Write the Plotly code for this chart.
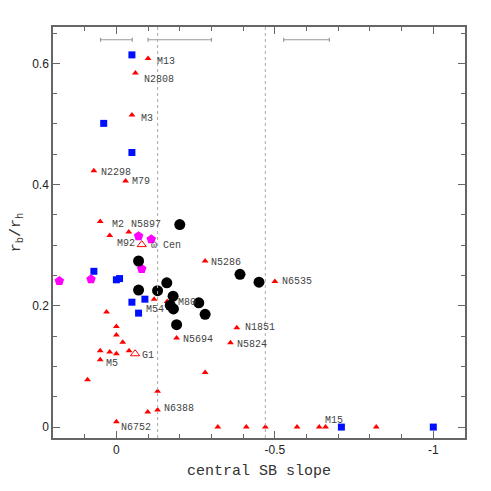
import plotly.graph_objs as go

# red filled triangles: central SB slope, r_b/r_h
tri_x = [-0.100, -0.060, -0.049, 0.071, -0.029, 0.051, -0.039, 0.021,
         -0.280, -0.500, -0.119, -0.160, 0.031, 0.0, 0.0, -0.020,
         0.051, 0.021, 0.0, -0.040, 0.051, -0.380, -0.190, -0.360,
         -0.280, 0.091, -0.130, -0.130, -0.099, 0.0,
         -0.320, -0.410, -0.470, -0.570, -0.640, -0.660, -0.820]
tri_y = [0.608, 0.584, 0.515, 0.423, 0.406, 0.339, 0.322, 0.316,
         0.274, 0.240, 0.211, 0.207, 0.190, 0.166, 0.152, 0.140,
         0.126, 0.124, 0.121, 0.126, 0.111, 0.164, 0.147, 0.139,
         0.090, 0.078, 0.059, 0.028, 0.025, 0.009,
         0.0, 0.0, 0.0, 0.0, 0.0, 0.0, 0.0]

# open triangles (omega Cen, G1)
open_x = [-0.080, -0.059]
open_y = [0.301, 0.121]

sq_x = [-0.049, 0.040, -0.049, 0.071, 0.0, -0.010, -0.049, -0.090, -0.070, -0.710, -1.000]
sq_y = [0.614, 0.501, 0.453, 0.257, 0.243, 0.245, 0.206, 0.211, 0.188, 0.0, 0.0]

pent_x = [-0.070, -0.110, -0.080, 0.180, 0.080]
pent_y = [0.315, 0.310, 0.261, 0.241, 0.244]

circ_x = [-0.200, -0.070, -0.390, -0.450, -0.159, -0.070, -0.130, -0.179,
          -0.260, -0.170, -0.180, -0.280, -0.190]
circ_y = [0.334, 0.274, 0.252, 0.239, 0.238, 0.226, 0.225, 0.216,
          0.205, 0.201, 0.195, 0.186, 0.169]

# label name -> (x, y) of the point it belongs to
label_names = ['M13', 'N2808', 'M3', 'N2298', 'M79', 'M2', 'N5897', 'M92',
               '\u03c9 Cen', 'N5286', 'N6535', 'M54', 'M80', 'N1851', 'N5694',
               'N5824', 'G1', 'M5', 'N6388', 'N6752', 'M15']
label_x = [-0.100, -0.060, -0.049, 0.071, -0.029, 0.051, -0.039, 0.021,
           -0.080, -0.280, -0.500, -0.119, -0.160, -0.380, -0.190,
           -0.360, -0.059, 0.051, -0.130, 0.0, -0.660]
label_y = [0.608, 0.584, 0.515, 0.423, 0.406, 0.339, 0.322, 0.316,
           0.301, 0.274, 0.240, 0.211, 0.207, 0.164, 0.147,
           0.139, 0.121, 0.111, 0.028, 0.009, 0.0]
# pixel offsets of each label from its point (right, down)
label_dx = [7, 7, 7, 5, 4, 10, 0, 5, 7, 4, 5, -10, 9, 6, 4, 5, 5, 4, 4, 3, -3]
label_dy = [3, 6, 4, 2, 1, 3, -7, 8, 1, 2, 0, 10, 1, 0, 2, 2, 2, 4, -2, 6, -7]

# typical error bars drawn at the top
err_x = [0.0, -0.2, -0.6]
err_y = [0.639, 0.639, 0.639]
err_w = [0.05, 0.1, 0.072]

dotted_x = [-0.13, -0.47]

label_font = dict(family='Liberation Mono', size=10, color='#444444')

fig = go.Figure()

fig.add_trace(go.Scatter(
    x=err_x, y=err_y, mode='markers',
    marker=dict(size=1, color='rgba(0,0,0,0)'),
    error_x=dict(type='data', array=err_w, color='#999999', thickness=1.2, width=2),
    hoverinfo='skip'))

fig.add_trace(go.Scatter(x=tri_x, y=tri_y, mode='markers',
                         marker=dict(symbol='triangle-up', size=6, color='red')))
fig.add_trace(go.Scatter(x=open_x, y=open_y, mode='markers',
                         marker=dict(symbol='triangle-up-open', size=8, color='red',
                                     line=dict(width=1))))
fig.add_trace(go.Scatter(x=sq_x, y=sq_y, mode='markers',
                         marker=dict(symbol='square', size=7, color='#0010ff')))
fig.add_trace(go.Scatter(x=pent_x, y=pent_y, mode='markers',
                         marker=dict(symbol='pentagon', size=10, color='#ff00ff')))
fig.add_trace(go.Scatter(x=circ_x, y=circ_y, mode='markers',
                         marker=dict(symbol='circle', size=11, color='black')))

for name, x, y, dx, dy in zip(label_names, label_x, label_y, label_dx, label_dy):
    fig.add_annotation(x=x, y=y, text=name, showarrow=False, xanchor='left',
                       yanchor='middle', xshift=dx, yshift=-dy, font=label_font)

for xv in dotted_x:
    fig.add_shape(type='line', xref='x', yref='paper', x0=xv, x1=xv, y0=0, y1=1,
                  line=dict(color='#aaaaaa', width=1, dash='dot'))

axis_common = dict(showgrid=False, zeroline=False, showline=True, linecolor='#666666',
                   linewidth=1.5, mirror='allticks', ticks='inside', ticklen=7,
                   tickcolor='#666666', automargin=False,
                   tickfont=dict(family='Liberation Sans', size=12, color='#222222'))

# page body has an 8px margin, so the figure is drawn 8px smaller
fig.update_layout(
    width=483, height=483,
    margin=dict(l=45, r=26, t=19, b=53),
    plot_bgcolor='white', paper_bgcolor='white',
    showlegend=False,
    xaxis=dict(range=[0.2, -1.1], tickvals=[0, -0.5, -1], ticktext=['0', '-0.5', '-1'],
               minor=dict(dtick=0.1, tick0=0, ticks='inside', ticklen=4, tickcolor='#666666'),
               title=dict(text='central SB slope', standoff=8,
                          font=dict(family='Liberation Mono', size=15, color='#333333')),
               **axis_common),
    yaxis=dict(range=[-0.018, 0.66], tickvals=[0, 0.2, 0.4, 0.6],
               ticktext=['0', '0.2', '0.4', '0.6'],
               minor=dict(dtick=0.05, tick0=0, ticks='inside', ticklen=4, tickcolor='#666666'),
               title=dict(text='r<sub>b</sub>/r<sub>h</sub>', standoff=10,
                          font=dict(family='Liberation Mono', size=15, color='#333333')),
               **axis_common),
)

fig.write_html("out.html")
